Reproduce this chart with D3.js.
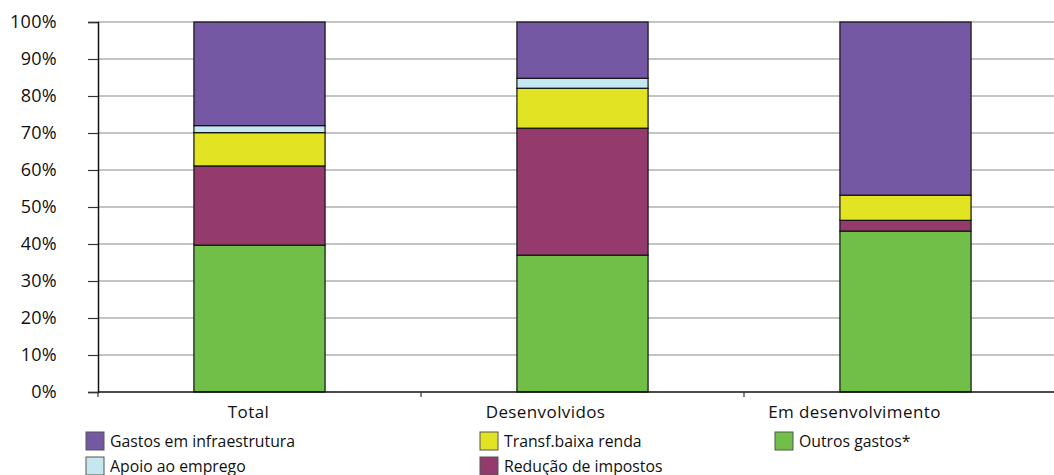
<!DOCTYPE html>
<html><head><meta charset="utf-8">
<script src="https://cdn.jsdelivr.net/npm/d3@7"></script>
<style>body{margin:0;background:#fff;}svg{display:block;}</style>
</head><body>
<script>
const categories = ["Total", "Desenvolvidos", "Em desenvolvimento"];
const seriesNames = ["Outros gastos*", "Redução de impostos", "Transf.baixa renda", "Apoio ao emprego", "Gastos em infraestrutura"];
const outrosGastos = [39.7, 37.0, 43.5];
const reducaoImpostos = [21.4, 34.3, 2.9];
const transfBaixaRenda = [9.0, 10.8, 6.8];
const apoioEmprego = [1.9, 2.7, 0];
const gastosInfra = [28.0, 15.2, 46.8];
const yTicks = [0, 10, 20, 30, 40, 50, 60, 70, 80, 90, 100];
const colors = ["#71BE48", "#953A6C", "#E2E323", "#C5E8F0", "#7558A4"];

const seriesValues = [outrosGastos, reducaoImpostos, transfBaixaRenda, apoioEmprego, gastosInfra];
const table = categories.map((c, i) => {
  const row = {cat: c};
  seriesNames.forEach((s, j) => row[s] = seriesValues[j][i]);
  return row;
});

const W = 1054, H = 475;
const svg = d3.select("body").append("svg").attr("width", W).attr("height", H);
const mLeft = 98, mTop = 22, mBottom = 392;
const step = 323;
const x = d3.scaleBand().domain(categories).range([mLeft, mLeft + step * 3]).paddingInner(0.594).paddingOuter(0.297);
const y = d3.scaleLinear().domain([0, 100]).range([mBottom, mTop]);
const font = "'Open Sans', 'Noto Sans', sans-serif";

// grid
svg.append("g").selectAll("line").data(yTicks.slice(1)).join("line")
  .attr("x1", mLeft).attr("x2", W).attr("y1", d => y(d)).attr("y2", d => y(d))
  .attr("stroke", "#8a8a8a").attr("stroke-width", 1.2);

// stacked bars
const stack = d3.stack().keys(seriesNames)(table);
svg.append("g").selectAll("g").data(stack).join("g")
  .attr("fill", (d, i) => colors[i])
  .selectAll("rect").data(d => d.filter(p => p[1] - p[0] > 0)).join("rect")
  .attr("x", d => x(d.data.cat)).attr("width", x.bandwidth())
  .attr("y", d => y(d[1])).attr("height", d => y(d[0]) - y(d[1]))
  .attr("stroke", "#111").attr("stroke-width", 1.2);

// y axis
const ya = svg.append("g").attr("transform", `translate(${mLeft},0)`)
  .call(d3.axisLeft(y).tickValues(yTicks).tickFormat(d => d + "%").tickSize(10).tickPadding(31));
ya.select(".domain").attr("stroke", "#111").attr("stroke-width", 1.5);
ya.selectAll(".tick line").attr("stroke", "#333").attr("stroke-width", 1.2);
ya.selectAll(".tick text").attr("font-family", font).attr("font-size", 18)
  .attr("letter-spacing", 0.3).attr("fill", "#111");

// x axis
const labelShift = [-11, -37, -51];
const xa = svg.append("g").attr("transform", `translate(0,${mBottom})`)
  .call(d3.axisBottom(x).tickSize(0).tickPadding(14));
xa.select(".domain").remove();
svg.append("line").attr("x1", mLeft).attr("x2", W).attr("y1", mBottom).attr("y2", mBottom)
  .attr("stroke", "#111").attr("stroke-width", 1.5);
xa.selectAll(".tick text").attr("font-family", font).attr("font-size", 17)
  .attr("letter-spacing", 0.4).attr("fill", "#111")
  .attr("dx", (d, i) => labelShift[i]);
// category boundary ticks
const bounds = [0, 1, 2].map(i => mLeft + x.step() * i);
svg.append("g").selectAll("line").data(bounds).join("line")
  .attr("x1", d => d).attr("x2", d => d).attr("y1", mBottom).attr("y2", mBottom + 5)
  .attr("stroke", "#333").attr("stroke-width", 1.2);

// legend
const legendItems = [
  {name: "Gastos em infraestrutura", i: 4, col: 0, row: 0},
  {name: "Apoio ao emprego", i: 3, col: 0, row: 1},
  {name: "Transf.baixa renda", i: 2, col: 1, row: 0},
  {name: "Redução de impostos", i: 1, col: 1, row: 1},
  {name: "Outros gastos*", i: 0, col: 2, row: 0}
];
const colX = [86, 480, 775];
const lg = svg.append("g").selectAll("g").data(legendItems).join("g")
  .attr("transform", d => `translate(${colX[d.col]},${432 + d.row * 25})`);
lg.append("rect").attr("width", 18).attr("height", 18)
  .attr("fill", d => colors[d.i]).attr("stroke", "#555").attr("stroke-width", 1);
lg.append("text").attr("x", 24).attr("y", 15).text(d => d.name)
  .attr("font-family", font).attr("font-size", 15.8).attr("fill", "#111");
</script>
</body></html>
